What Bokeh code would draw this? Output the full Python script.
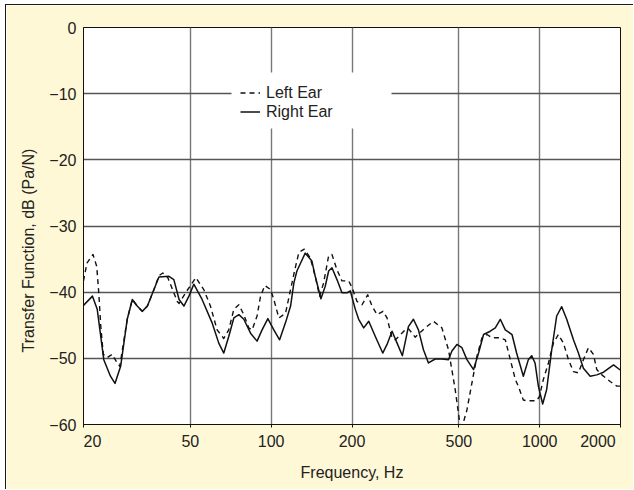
from bokeh.plotting import figure
from bokeh.models import (Range1d, FixedTicker, Legend, LegendItem, Title,
                          BoxAnnotation)
from bokeh.embed import file_html
from bokeh.resources import INLINE

# ---- data ----
x_ticks = [20, 50, 100, 200, 500, 1000, 2000]
x_tick_labels = ["\u00a0\u00a0\u00a0\u00a020", "50", "100", "200", "500", "1000",
                 "2000\u00a0\u00a0\u00a0\u00a0"]
y_ticks = [-60, -50, -40, -30, -20, -10, 0]
y_tick_labels = ["\u221260", "\u221250", "\u221240", "\u221230", "\u221220", "\u221210", "0"]

right_freq = [20.0, 21.6, 22.5, 23.8, 25.2, 26.2, 27.5, 29.1, 30.4, 31.7,
              33.1, 34.6, 36.6, 38.2, 41.6, 43.4, 45.4, 47.3, 49.4, 51.5,
              55.3, 60.2, 63.8, 66.6, 69.5, 72.6, 75.8, 79.1, 83.8, 88.6,
              92.5, 97.2, 102.3, 107.5, 113.1, 118.1, 121.5, 124.7, 133.9, 141.8,
              145.9, 153.2, 159.0, 163.7, 168.4, 175.8, 183.5, 191.6, 197.1, 205.8,
              211.8, 221.1, 230.9, 244.3, 260.3, 270.1, 282.0, 294.4, 308.1, 324.4,
              338.7, 353.6, 369.1, 385.3, 408.1, 432.3, 457.5, 471.1, 491.8, 513.4,
              535.9, 567.2, 592.1, 618.1, 654.6, 683.4, 713.4, 744.7, 788.8, 820.6,
              869.4, 907.5, 933.5, 961.1, 988.7, 1026, 1062, 1109, 1157, 1208,
              1261, 1336, 1394, 1455, 1542, 1632, 1729, 1884, 2000]
right_db = [-42.0, -40.6, -42.6, -50.2, -52.7, -53.8, -51.2, -44.1, -41.1, -42.1,
            -42.9, -42.1, -39.6, -37.7, -37.6, -38.1, -41.1, -42.1, -40.6, -38.8,
            -41.1, -44.6, -47.7, -49.2, -46.7, -43.9, -43.4, -44.1, -46.2, -47.4,
            -45.7, -44.0, -45.7, -47.2, -44.6, -42.1, -38.6, -36.8, -34.1, -35.3,
            -37.6, -41.0, -39.1, -36.8, -36.3, -38.1, -40.1, -40.1, -39.8, -42.6,
            -44.1, -45.4, -44.4, -46.7, -49.2, -47.9, -45.9, -47.7, -49.6, -45.2,
            -44.1, -45.7, -48.7, -50.7, -50.1, -50.1, -50.2, -48.9, -47.9, -48.4,
            -50.2, -51.7, -49.2, -46.4, -45.9, -45.4, -44.1, -45.7, -46.4, -49.2,
            -52.7, -50.2, -49.6, -50.7, -54.2, -56.9, -54.7, -48.7, -43.6, -42.2,
            -44.1, -47.2, -49.2, -51.5, -52.7, -52.5, -52.1, -51.0, -51.8]

left_freq = [20.0, 20.6, 21.7, 22.4, 22.8, 23.2, 23.7, 24.5, 25.6, 26.7,
             27.3, 29.1, 30.4, 31.7, 33.1, 34.6, 36.6, 38.2, 39.5, 41.2,
             44.7, 45.4, 48.0, 52.4, 56.1, 59.4, 62.9, 66.6, 69.5, 72.6,
             75.8, 79.1, 82.5, 84.9, 88.6, 91.3, 94.7, 99.5, 102.3, 106.8,
             113.1, 118.1, 122.5, 126.8, 132.8, 139.8, 145.9, 151.5, 156.8, 163.7,
             168.4, 175.8, 183.5, 194.4, 200.0, 208.8, 218.0, 228.9, 237.5, 248.0,
             261.0, 270.1, 282.0, 290.1, 298.7, 311.8, 324.4, 343.7, 374.6, 402.2,
             432.3, 457.5, 484.5, 508.9, 535.9, 559.4, 583.9, 609.5, 636.3, 664.2,
             713.4, 744.7, 777.5, 811.5, 832.7, 869.4, 892.2, 971.9, 997.5, 1032,
             1078, 1125, 1174, 1226, 1280, 1336, 1394, 1455, 1519, 1586,
             1632, 1704, 1830, 1938, 2000]
left_db = [-38.3, -35.6, -34.3, -36.1, -40.1, -45.2, -49.4, -49.9, -49.4, -50.7,
           -51.2, -44.1, -41.1, -42.1, -42.9, -42.1, -39.6, -37.5, -37.1, -37.8,
           -41.4, -41.7, -40.1, -37.8, -39.6, -42.1, -45.7, -47.0, -45.7, -42.6,
           -41.9, -43.4, -45.4, -45.7, -43.6, -40.6, -39.0, -39.6, -41.1, -43.9,
           -43.2, -39.6, -36.6, -34.0, -33.5, -34.8, -37.6, -40.6, -38.6, -34.5,
           -34.3, -36.6, -38.3, -38.3, -39.3, -41.4, -41.9, -40.4, -42.1, -43.4,
           -42.9, -43.9, -46.9, -47.2, -46.7, -45.9, -45.5, -46.8, -45.4, -44.4,
           -45.4, -48.7, -54.7, -61.0, -57.8, -53.7, -49.7, -46.9, -46.4, -46.9,
           -46.9, -47.2, -50.2, -53.2, -54.2, -56.3, -56.4, -56.4, -55.8, -53.2,
           -50.7, -47.7, -46.4, -47.7, -50.2, -52.0, -52.2, -50.2, -48.4, -49.4,
           -51.7, -52.5, -53.5, -54.2, -54.2]

assert len(right_freq) == len(right_db)
assert len(left_freq) == len(left_db)

FONT = "Liberation Sans"
TXT = "#222222"
BG = "#fff8d6"

p = figure(width=628, height=485, x_axis_type="log",
           x_range=Range1d(20, 2000), y_range=Range1d(-60, 0),
           output_backend="svg", toolbar_location=None,
           min_border_left=77, min_border_right=14,
           min_border_top=22, min_border_bottom=66)
p.styles = {"margin-top": "4px", "margin-left": "5px",
            "border-top": "1.5px solid #1a1a1a",
            "border-left": "1.5px solid #1a1a1a"}
p.background_fill_color = "white"
p.border_fill_color = BG
p.outline_line_color = "#111111"
p.outline_line_width = 1

rl = p.line(left_freq, left_db, line_color="#111111", line_width=1.4,
            line_dash="5 4", line_join="round")
rr = p.line(right_freq, right_db, line_color="#111111", line_width=1.5,
            line_join="round")

p.xaxis.ticker = FixedTicker(ticks=x_ticks, minor_ticks=[])
p.xaxis.major_label_overrides = dict(zip(x_ticks, x_tick_labels))
p.yaxis.ticker = FixedTicker(ticks=y_ticks, minor_ticks=[])
p.yaxis.major_label_overrides = dict(zip(y_ticks, y_tick_labels))

for ax in (p.xaxis[0], p.yaxis[0]):
    ax.axis_line_color = "#111111"
    ax.major_label_text_font = FONT
    ax.major_label_text_font_size = "16px"
    ax.major_label_text_color = TXT
    ax.minor_tick_line_color = None
    ax.major_tick_in = 0
    ax.axis_label_text_font = FONT
    ax.axis_label_text_font_size = "16px"
    ax.axis_label_text_font_style = "normal"
    ax.axis_label_text_color = TXT

p.xaxis.major_tick_out = 3
p.xaxis.major_tick_line_color = "#111111"
p.xaxis.major_label_standoff = 5
p.xaxis.axis_label = "Frequency, Hz"
p.xaxis.axis_label_standoff = 11

p.yaxis.major_tick_out = 0
p.yaxis.major_tick_line_color = None
p.yaxis.major_label_standoff = 7

p.xgrid.grid_line_color = "#777777"
p.xgrid.grid_line_width = 1.4
p.ygrid.grid_line_color = "#555555"
p.ygrid.grid_line_width = 1.3

ytitle = Title(text="Transfer Function, dB (Pa/N)", align="left", offset=72,
               text_font=FONT, text_font_size="16px", text_font_style="normal",
               text_color=TXT, standoff=20)
p.add_layout(ytitle, "left")

# white patch behind the legend, covering the grid like the reference's box
p.add_layout(BoxAnnotation(left=148, right=308, bottom=296, top=352,
                           left_units="screen", right_units="screen",
                           bottom_units="screen", top_units="screen",
                           fill_color="white", fill_alpha=1.0,
                           line_color=None, level="underlay"))

legend = Legend(items=[LegendItem(label="Left Ear", renderers=[rl]),
                       LegendItem(label="Right Ear", renderers=[rr])],
                location=(157, 303), padding=0, spacing=0,
                glyph_width=20, glyph_height=19, label_height=19,
                label_width=116, label_standoff=6,
                label_text_font=FONT, label_text_font_size="16px",
                label_text_color=TXT,
                background_fill_color="white", background_fill_alpha=1.0,
                border_line_color=None, margin=0)
p.add_layout(legend)

open("out.html", "w").write(file_html(p, INLINE))
